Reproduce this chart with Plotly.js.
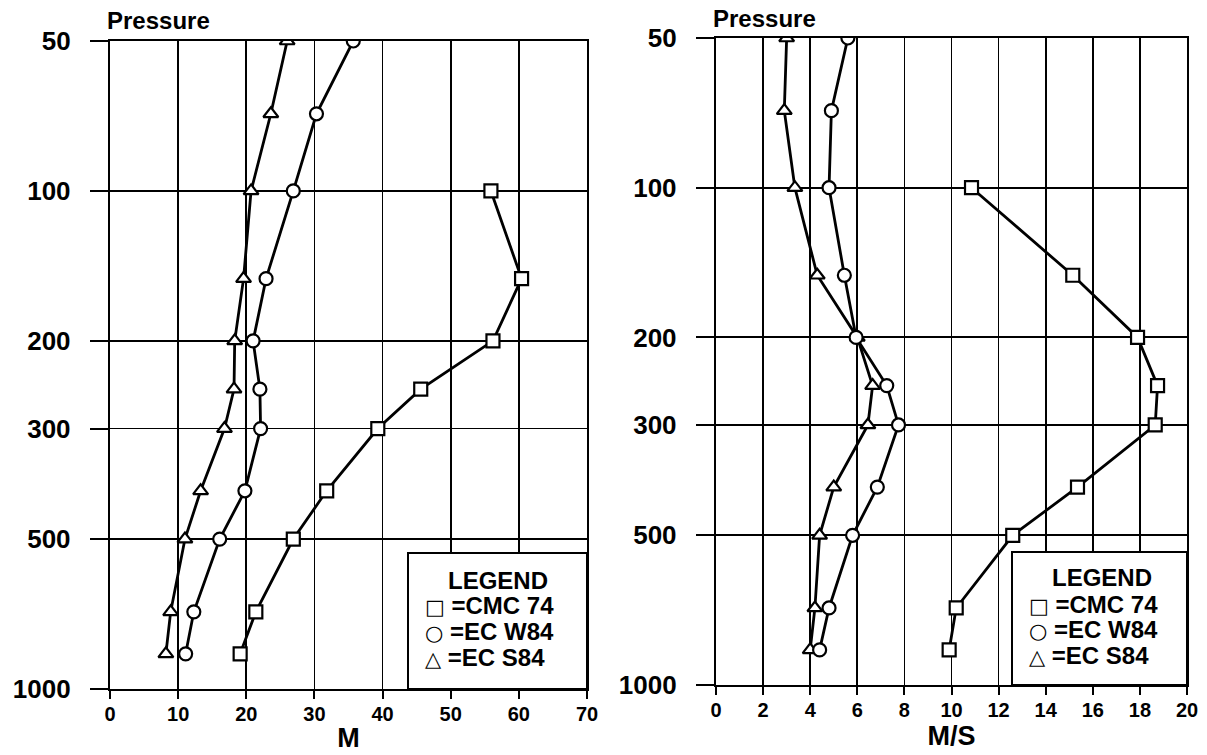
<!DOCTYPE html>
<html>
<head>
<meta charset="utf-8">
<script src="https://cdn.plot.ly/plotly-3.0.1.min.js"></script>
<style>html,body{margin:0;padding:0;background:#fff;}#chart{width:1207px;height:755px;}</style>
</head>
<body>
<div id="chart"></div>
<script>
// ---- data ----
const pressure = [50, 70, 100, 150, 200, 250, 300, 400, 500, 700, 850];
const pressureTicks = [50, 100, 200, 300, 500, 1000];
// Left panel (M)
const cmc74_m  = [null, null, 55.9, 60.4, 56.2, 45.6, 39.3, 31.8, 26.9, 21.4, 19.1];
const ecw84_m  = [35.7, 30.3, 26.9, 22.9, 21.0, 22.0, 22.1, 19.8, 16.1, 12.3, 11.1];
const ecs84_m  = [26.0, 23.6, 20.7, 19.6, 18.3, 18.2, 16.8, 13.3, 11.0, 8.9, 8.2];
// Right panel (M/S)
const cmc74_ms = [null, null, 10.85, 15.15, 17.9, 18.75, 18.65, 15.35, 12.6, 10.2, 9.9];
const ecw84_ms = [5.6, 4.9, 4.8, 5.45, 5.95, 7.25, 7.75, 6.85, 5.8, 4.8, 4.4];
const ecs84_ms = [3.0, 2.9, 3.35, 4.3, 6.0, 6.65, 6.45, 5.0, 4.4, 4.2, 4.0];
const seriesNames = ['CMC 74', 'EC W84', 'EC S84'];
const legendSymbols = ['\u25A1', '\u25CB', '\u25B3'];

// ---- helpers ----
const W = 1207, H = 755;
const px = x => x / W;
const py = y => 1 - y / H;
const FONT = 'Liberation Sans, Arial, sans-serif';

function trace(xs, symbol, xa, ya, name) {
  return {
    x: xs, y: pressure, name: name, xaxis: xa, yaxis: ya,
    mode: 'lines+markers', type: 'scatter', showlegend: false,
    connectgaps: false,
    line: {color: '#000', width: 2.8},
    marker: {symbol: symbol, size: 13, color: '#fff', line: {color: '#000', width: 2.2}}
  };
}

const data = [
  trace(ecs84_m, 'triangle-up', 'x', 'y', seriesNames[2]),
  trace(ecw84_m, 'circle', 'x', 'y', seriesNames[1]),
  trace(cmc74_m, 'square', 'x', 'y', seriesNames[0]),
  trace(ecs84_ms, 'triangle-up', 'x2', 'y2', seriesNames[2]),
  trace(ecw84_ms, 'circle', 'x2', 'y2', seriesNames[1]),
  trace(cmc74_ms, 'square', 'x2', 'y2', seriesNames[0])
];

function yAxis(domain) {
  return {
    type: 'log', autorange: false, range: [Math.log10(1000), Math.log10(50)],
    domain: domain, tickmode: 'array', tickvals: pressureTicks,
    ticktext: pressureTicks.map(String),
    ticks: 'outside', ticklen: 18, tickwidth: 2, tickcolor: '#000',
    ticklabelstandoff: 14,
    showgrid: true, gridcolor: '#000', gridwidth: 1.8,
    showline: true, linecolor: '#000', linewidth: 2.2, mirror: true,
    zeroline: false,
    tickfont: {family: FONT, size: 26, color: '#000', weight: 'bold'}
  };
}
function xAxis(domain, range, dtick, title) {
  return {
    domain: domain, range: range, autorange: false, dtick: dtick, tick0: 0,
    ticks: 'outside', ticklen: 8, tickwidth: 2, tickcolor: '#000',
    ticklabelstandoff: -2,
    showgrid: true, gridcolor: '#000', gridwidth: 1.8,
    showline: true, linecolor: '#000', linewidth: 2.2, mirror: true,
    zeroline: false,
    tickfont: {family: FONT, size: 20, color: '#000', weight: 'bold'},
    title: {text: title, standoff: 4, font: {family: FONT, size: 27, color: '#000', weight: 'bold'}}
  };
}

const annotations = [];
const shapes = [];
function addPanelText(pressX, pressY, box, legCx, legCy, entryX, entryYs) {
  annotations.push({xref: 'paper', yref: 'paper', x: px(pressX), y: py(pressY),
    xanchor: 'left', yanchor: 'middle', showarrow: false, text: 'Pressure',
    font: {family: FONT, size: 24, color: '#000', weight: 'bold'}});
  shapes.push({type: 'rect', xref: 'paper', yref: 'paper', layer: 'above',
    x0: px(box[0]), x1: px(box[2]), y0: py(box[1]), y1: py(box[3]),
    fillcolor: '#fff', line: {color: '#000', width: 2}});
  annotations.push({xref: 'paper', yref: 'paper', x: px(legCx), y: py(legCy),
    xanchor: 'center', yanchor: 'middle', showarrow: false, text: 'LEGEND',
    font: {family: FONT, size: 24, color: '#000', weight: 'bold'}});
  seriesNames.forEach((n, i) => {
    annotations.push({xref: 'paper', yref: 'paper', x: px(entryX), y: py(entryYs[i]),
      xanchor: 'left', yanchor: 'middle', showarrow: false,
      text: '<span style="font-family:DejaVu Sans;font-size:21px;font-weight:normal">' + legendSymbols[i] + '</span> =' + n,
      font: {family: FONT, size: 24, color: '#000', weight: 'bold'}});
  });
}
addPanelText(105, 20, [408, 553, 587, 689], 498, 580, 423, [605, 631, 657]);
addPanelText(711, 18, [1012, 552, 1187, 685], 1102, 577, 1027, [604, 629, 655]);

const layout = {
  width: W, height: H,
  margin: {l: 0, r: 0, t: 0, b: 0, pad: 0},
  paper_bgcolor: '#fff', plot_bgcolor: '#fff',
  showlegend: false,
  xaxis: xAxis([px(110), px(587)], [0, 70], 10, 'M'),
  yaxis: yAxis([1 - 689 / H, 1 - 41 / H]),
  xaxis2: Object.assign(xAxis([px(716), px(1187)], [0, 20], 2, 'M/S'), {anchor: 'y2'}),
  yaxis2: Object.assign(yAxis([1 - 685 / H, 1 - 38 / H]), {anchor: 'x2'}),
  annotations: annotations,
  shapes: shapes
};
layout.xaxis.anchor = 'y';
layout.yaxis.anchor = 'x';

Plotly.newPlot('chart', data, layout, {displayModeBar: false, staticPlot: true});
</script>
</body>
</html>
